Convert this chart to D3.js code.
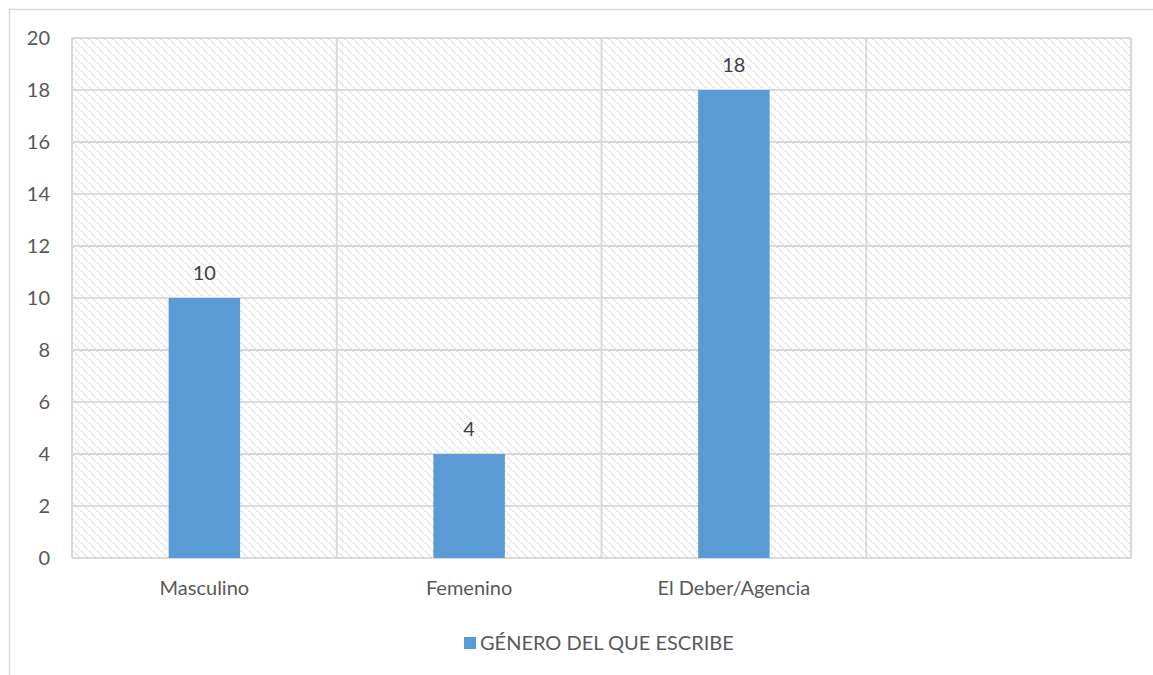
<!DOCTYPE html>
<html>
<head>
<meta charset="utf-8">
<script src="https://cdn.jsdelivr.net/npm/d3@7"></script>
<style>
  body { margin: 0; background: #fff; }
  svg { display: block; font-family: Lato, "Open Sans", sans-serif; }
</style>
</head>
<body>
<svg id="chart" width="1153" height="675"></svg>
<script>
const categories = ['Masculino', 'Femenino', 'El Deber/Agencia', ''];
const values = [10, 4, 18, null];
const yTicks = [0, 2, 4, 6, 8, 10, 12, 14, 16, 18, 20];
const seriesName = 'GÉNERO DEL QUE ESCRIBE';

const svg = d3.select('#chart');
const margin = { top: 38, left: 72, right: 22, bottom: 117 };
const width = 1153, height = 675;
const innerWidth = width - margin.left - margin.right;
const innerHeight = height - margin.top - margin.bottom;
const fontSize = 20;

// outer frame (runs off the right and bottom edge like the original)
svg.append('path')
    .attr('d', 'M9.5,675 V9.5 H1153')
    .attr('fill', 'none').attr('stroke', '#d9d9d9').attr('stroke-width', 1.5);

const defs = svg.append('defs');
const pat = defs.append('pattern')
    .attr('id', 'hatch').attr('patternUnits', 'userSpaceOnUse')
    .attr('width', 8).attr('height', 8);
pat.append('path')
    .attr('d', 'M-1,-1 L9,9 M7,-1 L9,1 M-1,7 L1,9')
    .attr('stroke', '#c8c8c8').attr('stroke-width', 1.2)
    .attr('stroke-dasharray', '1.4,1.2');

const xScale = d3.scaleBand().domain(categories.map((c, i) => i)).range([0, innerWidth]);
const yScale = d3.scaleLinear().domain([0, 20]).range([innerHeight, 0]);

const g = svg.append('g').attr('transform', 'translate(' + margin.left + ',' + margin.top + ')');

g.append('rect')
    .attr('width', innerWidth).attr('height', innerHeight)
    .attr('fill', 'url(#hatch)');

// grid
g.selectAll('.hgrid').data(yTicks).enter().append('line')
    .attr('x1', 0).attr('x2', innerWidth)
    .attr('y1', d => yScale(d)).attr('y2', d => yScale(d))
    .attr('stroke', '#d9d9d9').attr('stroke-width', 2);
g.selectAll('.vgrid').data(d3.range(categories.length + 1)).enter().append('line')
    .attr('x1', d => d * xScale.step()).attr('x2', d => d * xScale.step())
    .attr('y1', 0).attr('y2', innerHeight)
    .attr('stroke', '#d9d9d9').attr('stroke-width', 2);

const barW = xScale.bandwidth() * 0.27;
const data = values.map((v, i) => ({ i, v })).filter(d => d.v !== null);

g.selectAll('.bar').data(data).enter().append('rect')
    .attr('x', d => xScale(d.i) + xScale.bandwidth() / 2 - barW / 2)
    .attr('y', d => yScale(d.v))
    .attr('width', barW)
    .attr('height', d => innerHeight - yScale(d.v))
    .attr('fill', '#5b9bd5');

g.selectAll('.lbl').data(data).enter().append('text')
    .attr('x', d => xScale(d.i) + xScale.bandwidth() / 2)
    .attr('y', d => yScale(d.v) - 18)
    .attr('text-anchor', 'middle')
    .attr('font-size', fontSize).attr('fill', '#404040')
    .text(d => d.v);

// y axis labels
const yAxis = d3.axisLeft(yScale).tickValues(yTicks).tickSize(0).tickPadding(22);
g.append('g').call(yAxis)
    .call(a => a.select('.domain').remove())
    .selectAll('text')
    .attr('font-size', fontSize).attr('fill', '#595959').attr('font-family', 'Lato, "Open Sans", sans-serif');

// x axis labels (empty fourth category gets no label)
const xAxis = d3.axisBottom(xScale)
    .tickValues(categories.map((c, i) => i).filter(i => categories[i] !== ''))
    .tickFormat(i => categories[i]).tickSize(0).tickPadding(23);
g.append('g').attr('transform', 'translate(0,' + innerHeight + ')').call(xAxis)
    .call(a => a.select('.domain').remove())
    .selectAll('text')
    .attr('font-size', fontSize).attr('fill', '#595959').attr('font-family', 'Lato, "Open Sans", sans-serif');

// legend
const legend = svg.append('g').attr('transform', 'translate(464,637)');
legend.append('rect').attr('width', 12).attr('height', 12).attr('fill', '#5b9bd5');
legend.append('text')
    .attr('x', 16).attr('y', 13)
    .attr('font-size', fontSize).attr('fill', '#595959')
    .text(seriesName);
</script>
</body>
</html>
